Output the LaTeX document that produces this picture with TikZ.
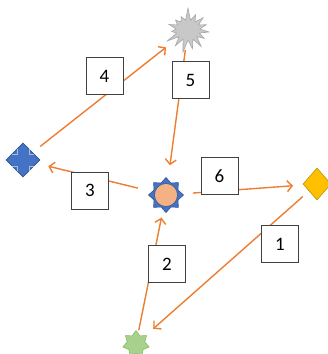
\documentclass[tikz,border=0pt]{standalone}
\usepackage{fontspec}
\setmainfont{Carlito}
\usetikzlibrary{arrows.meta,shapes.geometric,shapes.symbols}
\definecolor{arrowor}{HTML}{ED7D31}
\definecolor{boxline}{HTML}{404040}
\definecolor{bluef}{HTML}{4472C4}
\definecolor{blued}{HTML}{2F528F}
\definecolor{bluel}{HTML}{A9BCE0}
\definecolor{grayf}{HTML}{C8C8C8}
\definecolor{grayd}{HTML}{A6A6A6}
\definecolor{greenf}{HTML}{A9D18E}
\definecolor{greend}{HTML}{86BC64}
\definecolor{yellowf}{HTML}{FFC000}
\definecolor{yellowd}{HTML}{BF9000}
\definecolor{sunf}{HTML}{F4B183}
\tikzset{
  numbox/.style={draw=boxline, line width=0.9pt, fill=white, minimum width=37pt, minimum height=37pt, inner sep=0pt, font=\fontsize{19}{19}\selectfont},
  conn/.style={draw=arrowor, line width=1.4pt, -{Straight Barb[length=5pt,width=11pt,line width=1.4pt]}},
}
\begin{document}
\begin{tikzpicture}[x=1pt,y=-1pt]
\useasboundingbox (0,0) rectangle (328,354);
% shapes
\node[starburst, starburst points=15, starburst point height=13pt, random starburst=7, minimum width=50pt, minimum height=46pt, inner sep=0pt, fill=grayf, draw=grayd, line width=0.6pt] (S) at (188,30) {};
\node[diamond, aspect=1, minimum width=34pt, minimum height=34pt, inner sep=0pt, fill=bluef, draw=blued, line width=0.6pt] (L) at (23,160) {};
\draw[bluel, line width=0.5pt] (29,149) -- (29,154) -- (34,154)
  (17,149) -- (17,154) -- (12,154)
  (29,171) -- (29,166) -- (34,166)
  (17,171) -- (17,166) -- (12,166);
\node[star, star points=8, star point ratio=1.35, minimum size=35pt, inner sep=0pt, fill=bluef, draw=blued, line width=0.6pt] (C) at (166,195) {};
\node[circle, minimum size=23pt, inner sep=0pt, fill=sunf, draw=blued, line width=0.5pt] (Ci) at (166,195) {};
\node[diamond, minimum width=28pt, minimum height=32pt, inner sep=0pt, fill=yellowf, draw=yellowd, line width=0.6pt] (Y) at (317,184) {};
\node[star, star points=7, star point ratio=1.5, minimum size=27pt, inner sep=0pt, fill=greenf, draw=greend, line width=0.6pt] (G) at (136,344) {};
% connectors
\draw[conn, shorten <=22pt, shorten >=28pt] (L.center) -- (S.center);
\draw[conn, shorten <=20pt, shorten >=30pt] (S.center) -- (C.center);
\draw[conn, shorten <=29pt, shorten >=26pt] (C.center) -- (L.center);
\draw[conn, shorten <=27pt, shorten >=24pt] (C.center) -- (Y.center);
\draw[conn, shorten <=19pt, shorten >=23pt] (Y.center) -- (G.center);
\draw[conn, shorten <=14pt, shorten >=23pt] (G.center) -- (C.center);
% labels
\node[numbox] (b4) at (104.5,76) {4};
\node[numbox] (b5) at (190.5,80) {5};
\node[numbox] (b3) at (90,190.5) {3};
\node[numbox] (b6) at (219.5,176) {6};
\node[numbox] (b2) at (167,264) {2};
\node[numbox] (b1) at (280,244) {1};
\end{tikzpicture}
\end{document}
